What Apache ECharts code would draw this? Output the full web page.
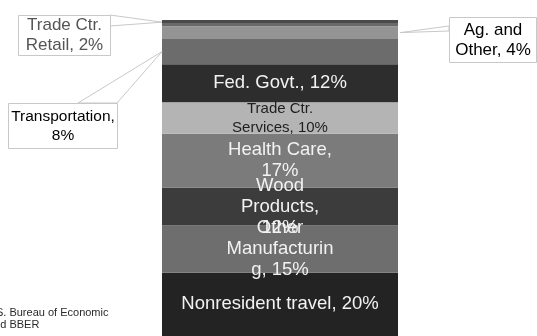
<!DOCTYPE html>
<html>
<head>
<meta charset="utf-8">
<script src="https://cdn.jsdelivr.net/npm/echarts@6/dist/echarts.min.js"></script>
<style>html,body{margin:0;padding:0;background:#fff;}#c{width:537px;height:336px;}</style>
</head>
<body>
<div id="c"></div>
<script>
// Data, bottom to top of the stacked bar
const segmentNames = ['Nonresident travel','Other Manufacturing','Wood Products','Health Care','Trade Ctr. Services','Fed. Govt.','Transportation','Ag. and Other','Trade Ctr. Retail'];
const segmentValues = [20, 15, 12, 17, 10, 12, 8, 4, 2];
const segmentLabels = ['Nonresident travel, 20%','Other\nManufacturin\ng, 15%','Wood\nProducts,\n12%','Health Care,\n17%','Trade Ctr.\nServices, 10%','Fed. Govt., 12%','Transportation,\n8%','Ag. and\nOther, 4%','Trade Ctr.\nRetail, 2%'];
const sourceNote = 'Source: U.S. Bureau of Economic\nAnalysis and BBER';

const segColors = ['#232323','#6e6e6e','#3c3c3c','#7b7b7b','#b4b4b4','#2d2d2d','#6c6c6c','#949494',
  {type:'linear',x:0,y:0,x2:0,y2:1,colorStops:[{offset:0,color:'#4a4a4a'},{offset:0.5,color:'#4a4a4a'},{offset:0.5,color:'#6a6a6a'},{offset:1,color:'#6a6a6a'}]}];
const labelColors = ['#f2f2f2','#f2f2f2','#f2f2f2','#f2f2f2','#1e1e1e','#f2f2f2'];
const labelSizes = [18.5,18.5,18.5,18.5,15,18.5];
const labelLH = [21,21,21,21,19,21];
const calloutIdx = {6:true,7:true,8:true};

const chart = echarts.init(document.getElementById('c'), null, {renderer:'canvas'});
const FONT = '"Liberation Sans", Arial, sans-serif';
const series = segmentNames.map((n, i) => ({
  name: n, type: 'bar', stack: 'all', barWidth: '100%',
  data: [segmentValues[i]],
  itemStyle: {color: segColors[i]},
  label: calloutIdx[i] ? {show:false} : {
    show: true, position: 'inside', formatter: segmentLabels[i],
    color: labelColors[i], fontSize: labelSizes[i], lineHeight: labelLH[i], fontFamily: FONT
  },
  silent: true
}));

chart.setOption({
  animation: false,
  grid: {left: 162, right: 139, top: 20, bottom: 0},
  xAxis: {type: 'category', data: ['Share'], show: false},
  yAxis: {type: 'value', min: 0, max: 100, show: false},
  series: series
});

// Callouts anchored to segment positions from the scale
function segCenterY(i){
  let below = 0; for (let k=0;k<i;k++) below += segmentValues[k];
  return chart.convertToPixel({gridIndex:0}, [0, below + segmentValues[i]/2])[1];
}
const barLeft = 162, barRight = 537 - 139;
const boxes = [
  {i:8, x:18, y:15, w:92, h:40, color:'#555555', size:17, lh:20,
   anchor:[barLeft, segCenterY(8)-1], base:[[110,15],[110,26]]},
  {i:6, x:8, y:103, w:109, h:45, color:'#000000', size:15.5, lh:19,
   anchor:[barLeft, segCenterY(6)], base:[[78,103],[117,103]]},
  {i:7, x:449, y:17, w:87, h:45, color:'#000000', size:17, lh:20,
   anchor:[barRight+2, segCenterY(7)], base:[[449,26],[449,31]]}
];
const g = [];
boxes.forEach(b => {
  g.push({type:'polygon', shape:{points:[b.base[0], b.anchor, b.base[1]]}, style:{fill:'#fff', stroke:'#c8c8c8', lineWidth:1}, z:10});
  g.push({type:'rect', shape:{x:b.x+0.5, y:b.y+0.5, width:b.w, height:b.h}, style:{fill:'#fff', stroke:'#c8c8c8', lineWidth:1}, z:11});
  g.push({type:'text', x:b.x + b.w/2 + 0.5, y:b.y + b.h/2 + 0.5, style:{text:segmentLabels[b.i], align:'center', verticalAlign:'middle', fill:b.color, fontSize:b.size, lineHeight:b.lh, fontFamily:FONT}, z:12});
});
g.push({type:'text', left:-56, top:307, style:{text:sourceNote, fill:'#2a2a2a', fontSize:11, lineHeight:12, fontFamily:FONT}, z:12});
chart.setOption({graphic: g});
</script>
</body>
</html>
